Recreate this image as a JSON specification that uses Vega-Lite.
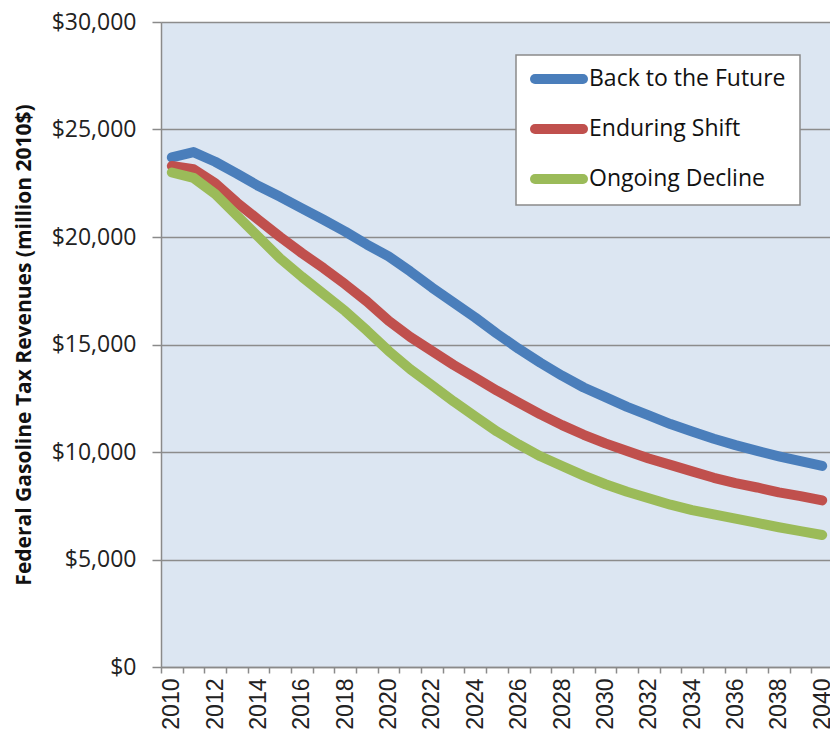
{
  "$schema": "https://vega.github.io/schema/vega-lite/v6.json",
  "width": 669,
  "height": 645,
  "autosize": {"type": "none"},
  "padding": {"left": 161, "top": 22, "right": 0, "bottom": 71},
  "background": "white",
  "config": {
    "view": {"fill": "#dce6f2", "stroke": null},
    "font": "Open Sans"
  },
  "data": {
    "values": [
      {"year": 2010, "Back to the Future": 23700, "Enduring Shift": 23300, "Ongoing Decline": 23000},
      {"year": 2011, "Back to the Future": 23950, "Enduring Shift": 23150, "Ongoing Decline": 22750},
      {"year": 2012, "Back to the Future": 23500, "Enduring Shift": 22500, "Ongoing Decline": 22000},
      {"year": 2013, "Back to the Future": 22950, "Enduring Shift": 21600, "Ongoing Decline": 21000},
      {"year": 2014, "Back to the Future": 22370, "Enduring Shift": 20800, "Ongoing Decline": 20000},
      {"year": 2015, "Back to the Future": 21870, "Enduring Shift": 20000, "Ongoing Decline": 19000},
      {"year": 2016, "Back to the Future": 21330, "Enduring Shift": 19250, "Ongoing Decline": 18150},
      {"year": 2017, "Back to the Future": 20800, "Enduring Shift": 18550, "Ongoing Decline": 17350},
      {"year": 2018, "Back to the Future": 20250, "Enduring Shift": 17800, "Ongoing Decline": 16550},
      {"year": 2019, "Back to the Future": 19650, "Enduring Shift": 17000, "Ongoing Decline": 15650},
      {"year": 2020, "Back to the Future": 19100, "Enduring Shift": 16100, "Ongoing Decline": 14700},
      {"year": 2021, "Back to the Future": 18400, "Enduring Shift": 15350, "Ongoing Decline": 13850},
      {"year": 2022, "Back to the Future": 17650, "Enduring Shift": 14700, "Ongoing Decline": 13100},
      {"year": 2023, "Back to the Future": 16950, "Enduring Shift": 14050, "Ongoing Decline": 12350},
      {"year": 2024, "Back to the Future": 16250, "Enduring Shift": 13450, "Ongoing Decline": 11650},
      {"year": 2025, "Back to the Future": 15500, "Enduring Shift": 12850, "Ongoing Decline": 10950},
      {"year": 2026, "Back to the Future": 14800, "Enduring Shift": 12300, "Ongoing Decline": 10350},
      {"year": 2027, "Back to the Future": 14150, "Enduring Shift": 11750, "Ongoing Decline": 9800},
      {"year": 2028, "Back to the Future": 13550, "Enduring Shift": 11250, "Ongoing Decline": 9350},
      {"year": 2029, "Back to the Future": 13000, "Enduring Shift": 10800, "Ongoing Decline": 8900},
      {"year": 2030, "Back to the Future": 12550, "Enduring Shift": 10400, "Ongoing Decline": 8500},
      {"year": 2031, "Back to the Future": 12100, "Enduring Shift": 10050, "Ongoing Decline": 8150},
      {"year": 2032, "Back to the Future": 11700, "Enduring Shift": 9700, "Ongoing Decline": 7850},
      {"year": 2033, "Back to the Future": 11300, "Enduring Shift": 9400, "Ongoing Decline": 7550},
      {"year": 2034, "Back to the Future": 10950, "Enduring Shift": 9100, "Ongoing Decline": 7300},
      {"year": 2035, "Back to the Future": 10620, "Enduring Shift": 8800, "Ongoing Decline": 7100},
      {"year": 2036, "Back to the Future": 10320, "Enduring Shift": 8550, "Ongoing Decline": 6900},
      {"year": 2037, "Back to the Future": 10050, "Enduring Shift": 8350, "Ongoing Decline": 6700},
      {"year": 2038, "Back to the Future": 9800, "Enduring Shift": 8120, "Ongoing Decline": 6500},
      {"year": 2039, "Back to the Future": 9570, "Enduring Shift": 7950, "Ongoing Decline": 6320},
      {"year": 2040, "Back to the Future": 9350, "Enduring Shift": 7750, "Ongoing Decline": 6140}
    ]
  },
  "transform": [
    {"fold": ["Back to the Future", "Enduring Shift", "Ongoing Decline"], "as": ["scenario", "revenue"]}
  ],
  "resolve": {"axis": {"x": "independent"}},
  "layer": [
    {
      "mark": {"type": "line", "strokeWidth": 10, "strokeCap": "round", "strokeJoin": "round"},
      "encoding": {
        "x": {
          "field": "year",
          "type": "quantitative",
          "scale": {"domain": [2009.5, 2040.36], "nice": false, "zero": false},
          "axis": {
            "orient": "bottom",
            "title": null,
            "values": [2010, 2012, 2014, 2016, 2018, 2020, 2022, 2024, 2026, 2028, 2030, 2032, 2034, 2036, 2038, 2040],
            "format": "d",
            "labelAngle": -90,
            "labelFont": "Liberation Sans",
            "labelFontSize": 23,
            "labelColor": "#222222",
            "labelPadding": 11,
            "labelOverlap": false,
            "ticks": false,
            "grid": false,
            "domainColor": "#8a8a8a",
            "domainWidth": 1.5
          }
        },
        "y": {
          "field": "revenue",
          "type": "quantitative",
          "scale": {"domain": [0, 30000], "nice": false},
          "axis": {
            "title": "Federal Gasoline Tax Revenues (million 2010$)",
            "titleFont": "Open Sans",
            "titleFontWeight": "bold",
            "titleFontSize": 21,
            "titleColor": "#111111",
            "titlePadding": 17,
            "values": [0, 5000, 10000, 15000, 20000, 25000, 30000],
            "format": "$,.0f",
            "labelFont": "Open Sans",
            "labelFontSize": 23,
            "labelColor": "#222222",
            "labelPadding": 16,
            "tickSize": 9,
            "tickColor": "#8a8a8a",
            "tickWidth": 1.5,
            "grid": true,
            "gridColor": "#8c8c8c",
            "gridWidth": 1.5,
            "domainColor": "#8a8a8a",
            "domainWidth": 1.5
          }
        },
        "color": {
          "field": "scenario",
          "type": "nominal",
          "scale": {
            "domain": ["Back to the Future", "Enduring Shift", "Ongoing Decline"],
            "range": ["#4a7ebb", "#c0504d", "#9bbb59"]
          },
          "legend": {
            "title": null,
            "orient": "none",
            "legendX": 355,
            "legendY": 33,
            "symbolType": "stroke",
            "symbolSize": 2304,
            "symbolStrokeWidth": 10,
            "labelFont": "Open Sans",
            "labelFontSize": 23,
            "labelLimit": 400,
            "labelColor": "#111111",
            "labelOffset": 1,
            "padding": 14,
            "rowPadding": 27,
            "clipHeight": 20,
            "fillColor": "white",
            "strokeColor": "#8a8a8a",
            "encode": {
              "symbols": {"update": {"strokeCap": {"value": "round"}}},
              "legend": {"update": {"strokeWidth": {"value": 1.5}}}
            }
          }
        }
      }
    },
    {
      "mark": {"type": "point", "opacity": 0},
      "encoding": {
        "x": {
          "field": "year",
          "type": "quantitative",
          "axis": {
            "orient": "bottom",
            "title": null,
            "values": [2009.5, 2010.5, 2011.5, 2012.5, 2013.5, 2014.5, 2015.5, 2016.5, 2017.5, 2018.5, 2019.5, 2020.5, 2021.5, 2022.5, 2023.5, 2024.5, 2025.5, 2026.5, 2027.5, 2028.5, 2029.5, 2030.5, 2031.5, 2032.5, 2033.5, 2034.5, 2035.5, 2036.5, 2037.5, 2038.5, 2039.5, 2040.5],
            "labels": false,
            "ticks": true,
            "tickSize": 6,
            "tickColor": "#8a8a8a",
            "tickWidth": 1.5,
            "domain": false,
            "grid": false
          }
        }
      }
    }
  ]
}
